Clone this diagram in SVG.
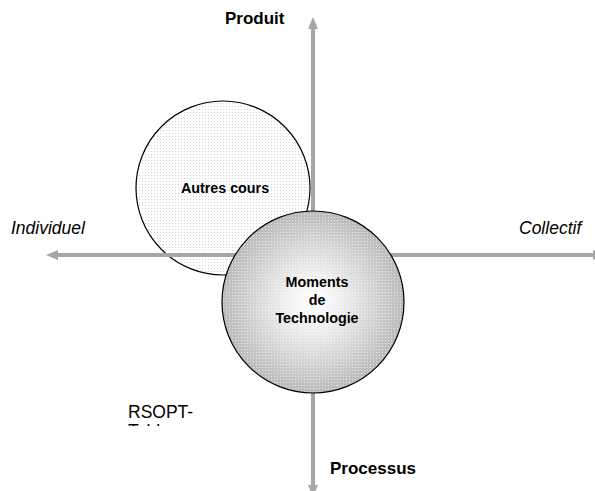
<svg xmlns="http://www.w3.org/2000/svg" width="595" height="491" viewBox="0 0 595 491">
<style>
.ax{stroke:#a6a6a6;stroke-width:4;fill:none}
.ah{fill:#a6a6a6}
.lb{font-family:"Liberation Sans",Arial,sans-serif;font-size:17.5px;fill:#000}
.b{font-weight:bold;font-size:17px}
.i{font-style:italic}
.ct{font-family:"Liberation Sans",Arial,sans-serif;font-size:14.3px;font-weight:bold;fill:#000;text-anchor:middle}
</style>
<defs>
<pattern id="dots" width="3" height="3" patternUnits="userSpaceOnUse">
<rect width="3" height="3" fill="#fff"/>
<rect x="1" y="1" width="1" height="1" fill="#d4d4d4"/>
</pattern>
<radialGradient id="grad" cx="0.5" cy="0.5" r="0.5">
<stop offset="0" stop-color="#ffffff"/>
<stop offset="0.3" stop-color="#f0f0f0"/>
<stop offset="1" stop-color="#bababa"/>
</radialGradient>
<pattern id="dots2" width="3" height="3" patternUnits="userSpaceOnUse">
<rect x="1" y="1" width="1" height="1" fill="#ffffff" fill-opacity="0.6"/>
</pattern>
<clipPath id="cut"><rect x="100" y="420" width="200" height="6"/></clipPath>
</defs>
<g id="autres-cours">
<circle cx="223" cy="188" r="87" fill="url(#dots)" stroke="#000" stroke-width="1.2"/>
<text class="ct" x="225" y="193">Autres cours</text>
</g>
<g id="connectors">
<line class="ax" x1="313" y1="486" x2="313" y2="27"/>
<path class="ah" d="M313,17 L318,29 L308,29 Z"/>
<path class="ah" d="M313,497 L318,485 L308,485 Z"/>
<line class="ax" x1="594" y1="255" x2="57" y2="255"/>
<path class="ah" d="M46,255 L58,250 L58,260 Z"/>
<path class="ah" d="M605,255 L593,250 L593,260 Z"/>
</g>
<g id="moments">
<circle cx="313" cy="302" r="91" fill="url(#grad)" stroke="#000" stroke-width="1.2"/>
<circle cx="313" cy="302" r="90" fill="url(#dots2)"/>
<text class="ct" x="317" y="287">Moments</text>
<text class="ct" x="317" y="305">de</text>
<text class="ct" x="317" y="323">Technologie</text>
</g>
<g id="labels">
<text class="lb b" x="225" y="24">Produit</text>
<text class="lb b" x="330" y="474">Processus</text>
<text class="lb i" x="11" y="234">Individuel</text>
<text class="lb i" x="519" y="234">Collectif</text>
<text class="lb" x="128" y="418">RSOPT-</text>
<text class="lb" x="128" y="437" clip-path="url(#cut)">Tableau</text>
</g>
</svg>
